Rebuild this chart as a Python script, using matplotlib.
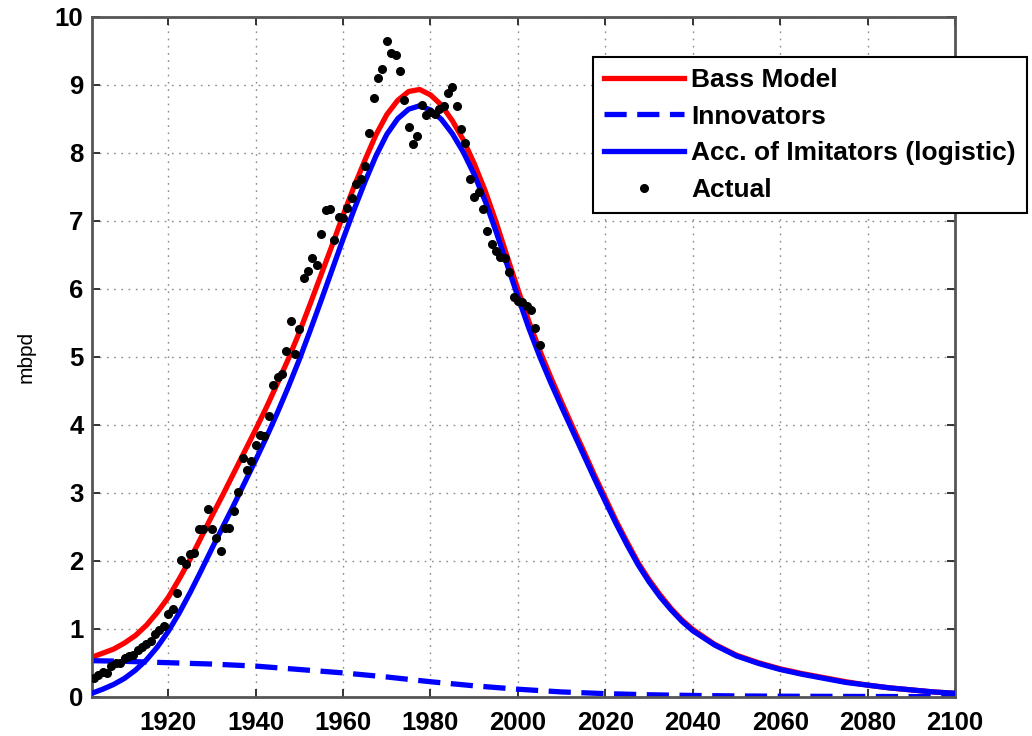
import numpy as np
import matplotlib.pyplot as plt

plt.rcParams['font.family'] = ['Liberation Sans', 'DejaVu Sans']

# Datos reales (mbpd), un punto por anio 1903-2005
anios = np.arange(1903, 2006)
actual = [0.275, 0.321, 0.369, 0.344, 0.454, 0.489, 0.502, 0.574, 0.604, 0.609,
          0.680, 0.728, 0.770, 0.823, 0.918, 0.976, 1.037, 1.214, 1.294, 1.531,
          2.007, 1.951, 2.097, 2.114, 2.469, 2.466, 2.760, 2.460, 2.332, 2.145,
          2.481, 2.488, 2.731, 3.003, 3.505, 3.327, 3.466, 3.707, 3.842, 3.837,
          4.125, 4.584, 4.695, 4.751, 5.088, 5.520, 5.046, 5.407, 6.158, 6.256,
          6.458, 6.342, 6.807, 7.151, 7.170, 6.710, 7.054, 7.035, 7.183, 7.332,
          7.542, 7.614, 7.804, 8.295, 8.810, 9.096, 9.238, 9.637, 9.463, 9.441,
          9.208, 8.774, 8.375, 8.132, 8.245, 8.707, 8.552, 8.597, 8.572, 8.649,
          8.688, 8.879, 8.971, 8.680, 8.349, 8.140, 7.613, 7.355, 7.417, 7.171,
          6.847, 6.662, 6.560, 6.465, 6.452, 6.252, 5.881, 5.822, 5.801, 5.746,
          5.681, 5.419, 5.178]

# Curvas del modelo
anios_mod = [1902.5, 1905, 1907.5, 1910, 1912.5, 1915, 1917.5, 1920, 1922.5, 1925,
             1927.5, 1930, 1932.5, 1935, 1937.5, 1940, 1942.5, 1945, 1947.5, 1950,
             1952.5, 1955, 1957.5, 1960, 1962.5, 1965, 1967.5, 1970, 1972.5, 1975,
             1977.5, 1980, 1982.5, 1985, 1987.5, 1990, 1992.5, 1995, 1997.5, 2000,
             2002.5, 2005, 2007.5, 2010, 2012.5, 2015, 2017.5, 2020, 2022.5, 2025,
             2027.5, 2030, 2032.5, 2035, 2037.5, 2040, 2045, 2050, 2055, 2060,
             2065, 2070, 2075, 2080, 2085, 2090, 2095, 2100]
bass = [0.58, 0.64, 0.70, 0.79, 0.90, 1.05, 1.24, 1.46, 1.73, 2.02,
        2.34, 2.66, 2.97, 3.29, 3.61, 3.93, 4.26, 4.61, 4.97, 5.36,
        5.78, 6.21, 6.64, 7.08, 7.50, 7.89, 8.26, 8.56, 8.77, 8.90,
        8.93, 8.85, 8.70, 8.47, 8.19, 7.84, 7.44, 6.98, 6.48, 5.99,
        5.52, 5.09, 4.70, 4.33, 3.97, 3.62, 3.26, 2.92, 2.58, 2.27,
        1.97, 1.72, 1.50, 1.30, 1.13, 0.99, 0.77, 0.61, 0.50, 0.41,
        0.34, 0.28, 0.22, 0.17, 0.13, 0.10, 0.07, 0.05]
imitadores = [0.05, 0.11, 0.18, 0.27, 0.39, 0.54, 0.73, 0.96, 1.23, 1.53,
              1.85, 2.18, 2.50, 2.82, 3.15, 3.48, 3.82, 4.18, 4.56, 4.96,
              5.39, 5.83, 6.28, 6.73, 7.16, 7.57, 7.95, 8.27, 8.50, 8.64,
              8.69, 8.63, 8.49, 8.28, 8.01, 7.68, 7.29, 6.84, 6.36, 5.88,
              5.42, 5.00, 4.62, 4.26, 3.91, 3.56, 3.21, 2.87, 2.54, 2.23,
              1.94, 1.69, 1.47, 1.28, 1.11, 0.97, 0.76, 0.60, 0.49, 0.40,
              0.33, 0.27, 0.21, 0.17, 0.13, 0.10, 0.07, 0.05]

anios_inn = [1902.5, 1910, 1920, 1930, 1940, 1950, 1960, 1970, 1980, 1990,
             2000, 2010, 2020, 2030, 2040, 2050, 2060, 2080, 2100]
innovadores = [0.53, 0.52, 0.50, 0.48, 0.45, 0.40, 0.35, 0.29, 0.22, 0.16,
               0.11, 0.07, 0.045, 0.028, 0.018, 0.011, 0.007, 0.003, 0.001]

# Graficando

fig = plt.figure(figsize=(10.32, 7.36), dpi=100)
ax = fig.add_axes([0.0889, 0.0534, 0.8365, 0.9239])

ax.plot(anios_mod, bass, color='r', lw=3.8, label='Bass Model', zorder=2)
ax.plot(anios_inn, innovadores, color='b', lw=3.8, linestyle=(0, (4.2, 2.0)),
        label='Innovators', zorder=2)
ax.plot(anios_mod, imitadores, color='b', lw=3.8,
        label='Acc. of Imitators (logistic)', zorder=3)
ax.plot(anios, actual, 'o', color='k', ms=5.5, label='Actual', zorder=4)

ax.set_xlim(1902.5, 2100)
ax.set_ylim(0, 10)
ax.set_xticks(np.arange(1920, 2101, 20))
ax.set_yticks(np.arange(0, 11, 1))
ax.grid(True, color='#8a8a8a', linestyle=(0, (1.2, 4)), lw=1.0)
ax.tick_params(direction='in', length=6, width=1.4, top=True, right=True,
               labelsize=18.5, color='#333333')
ax.tick_params(axis='x', pad=10)
ax.tick_params(axis='y', pad=6)
for t in ax.get_xticklabels() + ax.get_yticklabels():
    t.set_fontweight('bold')
for s in ax.spines.values():
    s.set_color('#555555')
    s.set_linewidth(2)

ax.set_ylabel('mbpd', fontsize=15, labelpad=14)

leg = ax.legend(loc='upper left', bbox_to_anchor=(0.581, 0.941), borderaxespad=0,
                prop={'weight': 'bold', 'size': 19}, handlelength=3.0,
                handletextpad=0.3, labelspacing=0.48, borderpad=0.42,
                fancybox=False, framealpha=1, edgecolor='k')
leg.get_frame().set_linewidth(1.5)

plt.savefig('out.png', dpi=100)
